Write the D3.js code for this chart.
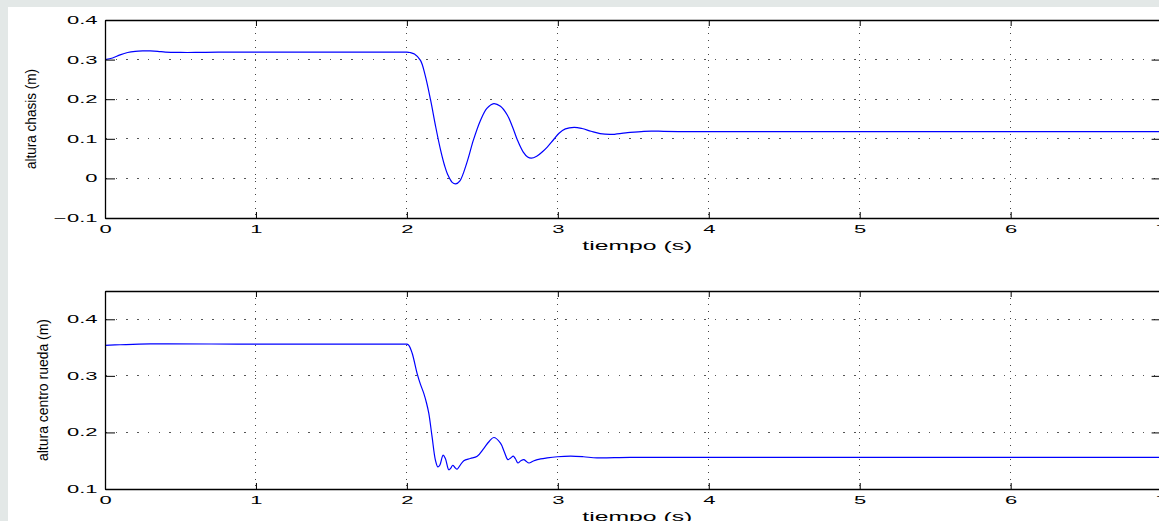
<!DOCTYPE html>
<html>
<head>
<meta charset="utf-8">
<script src="https://cdn.jsdelivr.net/npm/d3@7"></script>
<style>
html,body{margin:0;padding:0;background:#e3e8e7;overflow:hidden;}
svg{display:block;}
</style>
</head>
<body>
<svg id="chart" width="1159" height="521"></svg>
<script>
// ---- data ----
const timeTicks = [0, 1, 2, 3, 4, 5, 6, 7];
const timeTickLabels = ["0", "1", "2", "3", "4", "5", "6", "7"];
const chasisTicks = [-0.1, 0, 0.1, 0.2, 0.3, 0.4];
const chasisTickLabels = ["\u22120.1", "0", "0.1", "0.2", "0.3", "0.4"];
const ruedaTicks = [0.1, 0.2, 0.3, 0.4];
const ruedaTickLabels = ["0.1", "0.2", "0.3", "0.4"];
const xLabel = "tiempo (s)";
const chasisLabel = "altura chasis (m)";
const ruedaLabel = "altura centro rueda (m)";

// altura chasis (m) vs tiempo (s)
const chasisT = [0, 0.05, 0.1, 0.15, 0.2, 0.25, 0.3, 0.35, 0.4, 0.5, 0.6, 0.75, 1.0, 1.5, 1.95, 2.0,
  2.02, 2.05, 2.09, 2.12, 2.157, 2.19, 2.223, 2.25, 2.27, 2.3, 2.323, 2.35, 2.4, 2.44, 2.488, 2.53,
  2.576, 2.62, 2.665, 2.7, 2.732, 2.77, 2.8, 2.824, 2.86, 2.9, 2.93, 2.97, 3.008, 3.05, 3.108, 3.16,
  3.22, 3.28, 3.35, 3.45, 3.57, 3.7, 3.85, 4.0, 5.0, 6.0, 7.0];
const chasisH = [0.300, 0.304, 0.312, 0.318, 0.321, 0.322, 0.322, 0.321, 0.319, 0.318, 0.318, 0.319, 0.319, 0.319, 0.319, 0.319,
  0.318, 0.314, 0.298, 0.262, 0.198, 0.132, 0.072, 0.032, 0.010, -0.010, -0.014, -0.007, 0.043, 0.096, 0.147, 0.177,
  0.189, 0.182, 0.160, 0.130, 0.097, 0.067, 0.054, 0.051, 0.056, 0.068, 0.079, 0.097, 0.114, 0.125, 0.129, 0.126,
  0.119, 0.113, 0.111, 0.115, 0.119, 0.119, 0.118, 0.118, 0.118, 0.118, 0.118];

// altura centro rueda (m) vs tiempo (s)
const ruedaT = [0, 0.1, 0.3, 1.0, 1.99, 2.0, 2.013, 2.035, 2.068, 2.09, 2.112, 2.13, 2.145, 2.167, 2.189,
  2.205, 2.218, 2.24, 2.255, 2.278, 2.291, 2.304, 2.318, 2.333, 2.35, 2.377, 2.42, 2.466, 2.51, 2.545, 2.576,
  2.62, 2.645, 2.669, 2.688, 2.705, 2.72, 2.735, 2.755, 2.775, 2.79, 2.809, 2.835, 2.864, 2.93, 2.997, 3.086,
  3.17, 3.26, 3.48, 4.0, 5.0, 6.0, 7.0];
const ruedaH = [0.354, 0.355, 0.3565, 0.356, 0.356, 0.356, 0.354, 0.340, 0.304, 0.285, 0.269, 0.252, 0.234, 0.192, 0.151,
  0.139, 0.142, 0.160, 0.154, 0.134, 0.137, 0.142, 0.138, 0.135, 0.141, 0.150, 0.154, 0.158, 0.172, 0.184, 0.191,
  0.181, 0.166, 0.152, 0.155, 0.158, 0.153, 0.146, 0.150, 0.152, 0.149, 0.146, 0.149, 0.152, 0.155, 0.157, 0.158,
  0.157, 0.155, 0.156, 0.156, 0.156, 0.156, 0.156];

// ---- drawing ----
const svg = d3.select("#chart");
svg.append("rect").attr("x", 8).attr("y", 7).attr("width", 1159 - 8).attr("height", 521 - 7).attr("fill", "#ffffff");

const x = d3.scaleLinear().domain([0, 7]).range([105, 1161.6]);
const FONT = "'Liberation Sans', Arial, Helvetica, sans-serif";
const SX = 2.2;

function panel(cfg) {
  const y = d3.scaleLinear().domain(cfg.domain).range([cfg.bottom, cfg.top]);
  const g = svg.append("g");
  const x0 = x.range()[0], x1 = x.range()[1];

  // grid
  g.append("g").selectAll("line").data(timeTicks.filter(t => t > 0 && t < 7)).join("line")
    .attr("x1", d => x(d)).attr("x2", d => x(d)).attr("y1", cfg.top).attr("y2", cfg.bottom)
    .attr("stroke", "#444").attr("stroke-width", 1).attr("stroke-dasharray", "1 5.7").attr("shape-rendering", "crispEdges");
  g.append("g").selectAll("line").data(cfg.ticks.filter(v => v > cfg.domain[0] && v < cfg.domain[1])).join("line")
    .attr("x1", x0).attr("x2", x1).attr("y1", d => y(d)).attr("y2", d => y(d))
    .attr("stroke", "#555").attr("stroke-width", 1).attr("stroke-dasharray", "1.5 9.2").attr("shape-rendering", "crispEdges");

  // data line
  const clipId = "clip" + cfg.id;
  svg.append("clipPath").attr("id", clipId).append("rect")
    .attr("x", x0).attr("y", cfg.top).attr("width", x1 - x0).attr("height", cfg.bottom - cfg.top);
  const line = d3.line().x(d => x(d[0])).y(d => y(d[1])).curve(d3.curveCatmullRom.alpha(0.5));
  g.append("path").datum(cfg.t.map((t, i) => [t, cfg.h[i]]))
    .attr("clip-path", `url(#${clipId})`)
    .attr("d", line).attr("fill", "none").attr("stroke", "#0000ff").attr("stroke-width", 1.2);

  // axes
  const ax = g.append("g").attr("transform", `translate(0,${cfg.bottom})`)
    .call(d3.axisBottom(x).tickValues(timeTicks).tickSizeInner(-6).tickSizeOuter(0)
      .tickFormat((d, i) => timeTickLabels[i]));
  const axT = g.append("g").attr("transform", `translate(0,${cfg.top})`)
    .call(d3.axisTop(x).tickValues(timeTicks).tickSizeInner(-6).tickSizeOuter(0).tickFormat(""));
  const ay = g.append("g").attr("transform", `translate(${x0},0)`)
    .call(d3.axisLeft(y).tickValues(cfg.ticks).tickSizeInner(-10).tickSizeOuter(0)
      .tickFormat((d, i) => cfg.labels[i]));
  const ayR = g.append("g").attr("transform", `translate(${x1},0)`)
    .call(d3.axisRight(y).tickValues(cfg.ticks).tickSizeInner(-10).tickSizeOuter(0).tickFormat(""));

  [ax, axT, ay, ayR].forEach(a => {
    a.selectAll(".domain").attr("stroke", "#000").attr("stroke-width", 1.3);
    a.selectAll(".tick line").attr("stroke", "#000").attr("stroke-width", 1);
  });
  ax.selectAll(".tick text")
    .attr("font-family", FONT).attr("font-size", 10).attr("fill", "#000")
    .attr("y", 8).attr("dy", "0.71em").attr("transform", `scale(${SX},1)`);
  ay.selectAll(".tick text")
    .attr("font-family", FONT).attr("font-size", 10).attr("fill", "#000")
    .attr("x", -7.5 / SX).attr("dy", "0.34em").attr("transform", `scale(${SX},1)`);

  // x label
  svg.append("text").attr("x", (x0 + x1) / 2 + 4).attr("y", cfg.bottom + 32)
    .attr("text-anchor", "middle").attr("font-family", FONT).attr("font-size", 12)
    .attr("textLength", 110).attr("lengthAdjust", "spacingAndGlyphs")
    .text(xLabel);
  // y label
  svg.append("text")
    .attr("transform", `translate(${cfg.ylabelX},${(cfg.top + cfg.bottom) / 2}) rotate(-90)`)
    .attr("text-anchor", "middle").attr("font-family", FONT).attr("font-size", 14.5)
    .attr("textLength", cfg.ylabelLen).attr("lengthAdjust", "spacingAndGlyphs")
    .text(cfg.ylabel);
}

panel({ id: "a", domain: [-0.1, 0.4], top: 20, bottom: 218, ticks: chasisTicks, labels: chasisTickLabels,
  t: chasisT, h: chasisH, ylabel: chasisLabel, ylabelX: 36, ylabelLen: 100 });
panel({ id: "b", domain: [0.1, 0.45], top: 291, bottom: 489, ticks: ruedaTicks, labels: ruedaTickLabels,
  t: ruedaT, h: ruedaH, ylabel: ruedaLabel, ylabelX: 48, ylabelLen: 142 });
</script>
</body>
</html>
